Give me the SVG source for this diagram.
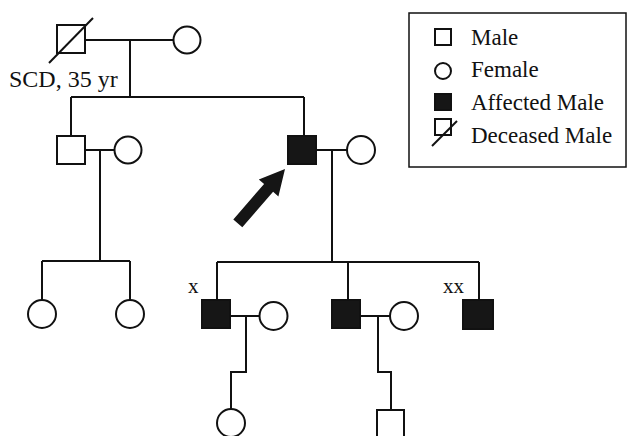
<svg xmlns="http://www.w3.org/2000/svg" width="628" height="436" viewBox="0 0 628 436">
<style>
.m{fill:#fff;stroke:#111;stroke-width:2}
.a{fill:#161616;stroke:#111;stroke-width:2}
.f{fill:#fff;stroke:#111;stroke-width:2}
.ln{fill:none;stroke:#111;stroke-width:2}
.t{font-family:"Liberation Serif","Times New Roman",serif;fill:#111}
</style>
<rect width="628" height="436" fill="#fff"/>
<g id="connectors" class="ln">
<path d="M85,40H173.5M130,40V97M71,97H304M71,97V136M304,97V136"/>
<path d="M85,150H114.5M100,150V261M42,261H130M42,261V300M130,261V300"/>
<path d="M316,150H347M332,150V262M217,262H479M217,262V299M348,262V299M479,262V299"/>
<path d="M230,316H259.5M246,316V372H231V409"/>
<path d="M360,316H390M378,316V372H391V410"/>
</g>
<g id="I-1"><rect class="m" x="57" y="25" width="28" height="28"/><line class="ln" x1="49" y1="63" x2="93" y2="18"/><text class="t" x="9" y="87" font-size="24">SCD, 35 yr</text></g>
<g id="I-2"><circle class="f" cx="187" cy="40" r="13.5"/></g>
<g id="II-1"><rect class="m" x="57" y="136" width="28" height="28"/></g>
<g id="II-2"><circle class="f" cx="128" cy="150" r="13.5"/></g>
<g id="II-3"><rect class="a" x="288" y="136" width="28" height="28"/></g>
<g id="II-4"><circle class="f" cx="361" cy="150" r="14"/></g>
<g id="III-1"><circle class="f" cx="42" cy="314" r="14"/></g>
<g id="III-2"><circle class="f" cx="130" cy="314" r="14"/></g>
<g id="III-3"><rect class="a" x="202" y="300" width="28" height="28"/><text class="t" x="188" y="293" font-size="21">x</text></g>
<g id="III-4"><circle class="f" cx="273.5" cy="316" r="14"/></g>
<g id="III-5"><rect class="a" x="332" y="300" width="28" height="28"/></g>
<g id="III-6"><circle class="f" cx="404" cy="316" r="14"/></g>
<g id="III-7"><rect class="a" x="463" y="300" width="30" height="29"/><text class="t" x="443" y="293" font-size="21">xx</text></g>
<g id="IV-1"><circle class="f" cx="231" cy="423" r="14"/></g>
<g id="IV-2"><rect class="m" x="377" y="410" width="27" height="28"/></g>
<g id="proband-arrow"><polygon fill="#151515" points="285,169 278.4,196.4 273.1,191.8 242.3,227.2 233.3,219.4 264.1,184 258.8,179.4"/></g>
<g id="legend">
<rect x="409" y="13" width="217" height="154" fill="#fff" stroke="#111" stroke-width="1.5"/>
<rect class="m" x="435" y="29" width="16" height="16" stroke-width="1.8"/>
<text class="t" x="471" y="45" font-size="23">Male</text>
<circle class="f" cx="443" cy="71" r="8" stroke-width="1.8"/>
<text class="t" x="471" y="77" font-size="23">Female</text>
<rect class="a" x="435" y="94" width="16" height="16" stroke-width="1.5"/>
<text class="t" x="471" y="110" font-size="23">Affected Male</text>
<rect class="m" x="435" y="119" width="16" height="16" stroke-width="1.8"/>
<line class="ln" x1="432" y1="146" x2="457" y2="121" stroke-width="1.8"/>
<text class="t" x="471" y="143" font-size="23">Deceased Male</text>
</g>
</svg>
